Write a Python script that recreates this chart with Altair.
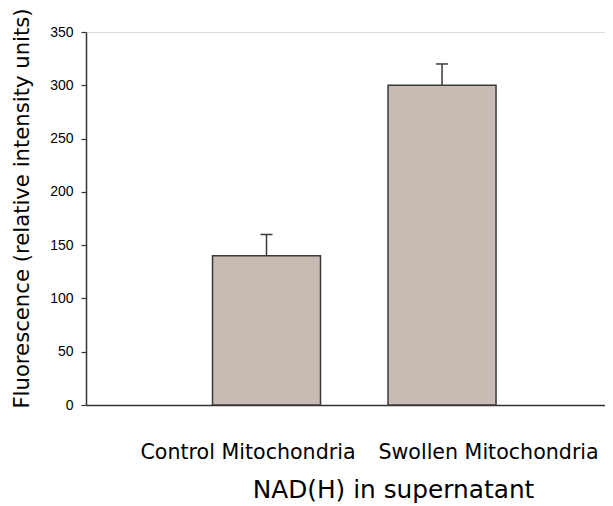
import altair as alt
import pandas as pd

categories = ["Control Mitochondria", "Swollen Mitochondria"]
values = [140, 300]
errors = [20, 20]
y_ticks = [0, 50, 100, 150, 200, 250, 300, 350]

df = pd.DataFrame({
    "category": categories,
    "pos": list(range(1, len(categories) + 1)),
    "value": values,
    "err": errors,
})
df["upper"] = df["value"] + df["err"]

label_map = "{" + ", ".join(f"{i + 1}: '{c}'" for i, c in enumerate(categories)) + "}"

x_scale = alt.Scale(domain=[0, 2.9], nice=False, zero=False)
y_scale = alt.Scale(domain=[0, 350], nice=False)

x_axis = alt.Axis(
    values=[1, 2],
    labelExpr=f"{label_map}[datum.value]",
    ticks=False,
    tickSize=0,
    grid=False,
    domainColor="#333333",
    domainWidth=1.5,
    labelFont="DejaVu Sans",
    labelFontSize=20.6,
    labelColor="#000000",
    labelBaseline="alphabetic",
    labelPadding=53,
    labelAlign="center",
    labelOffset={"condition": {"test": "datum.value == 1", "value": -19}, "value": 46},
    labelOverlap=False,
    labelFlush=False,
    labelLimit=0,
    title="NAD(H) in supernatant",
    titleFont="DejaVu Sans",
    titleFontSize=24.8,
    titleFontWeight="normal",
    titleColor="#000000",
    titleX=307,
    titleY=92,
    titleAlign="center",
    titleBaseline="alphabetic",
    titleLimit=0,
)

y_axis = alt.Axis(
    values=y_ticks,
    grid=False,
    tickSize=5,
    tickColor="#333333",
    tickWidth=1.2,
    domainColor="#333333",
    domainWidth=1.5,
    labelFont="Liberation Sans",
    labelFontSize=14,
    labelColor="#000000",
    labelPadding=8,
    title="Fluorescence (relative intensity units)",
    titleFont="DejaVu Sans",
    titleFontSize=21.2,
    titleFontWeight="normal",
    titleColor="#000000",
    titleAngle=270,
    titleX=-58,
    titleY=176,
    titleAlign="center",
    titleBaseline="alphabetic",
    titleLimit=0,
)

base = alt.Chart(df)

bars = base.mark_bar(
    size=108, color="#c7bbb3", stroke="#3a3a3a", strokeWidth=1.5
).encode(
    x=alt.X("pos:Q", scale=x_scale, axis=x_axis),
    y=alt.Y("value:Q", scale=y_scale, axis=y_axis),
)

err_line = base.mark_rule(color="#3a3a3a", strokeWidth=1.5).encode(
    x="pos:Q",
    y="value:Q",
    y2="upper:Q",
)

err_cap = base.mark_tick(
    orient="horizontal", size=12, thickness=1.5, color="#3a3a3a", opacity=1
).encode(
    x="pos:Q",
    y="upper:Q",
)

chart = (
    alt.layer(bars, err_line, err_cap)
    .properties(
        width=519,
        height=373,
        autosize=alt.AutoSizeParams(type="none"),
        padding={"left": 78, "top": 24, "right": 0, "bottom": 100},
    )
    .configure_view(stroke=None)
    .configure(background="#ffffff")
)

chart.save("out.html", embed_options={"renderer": "svg", "actions": False})
